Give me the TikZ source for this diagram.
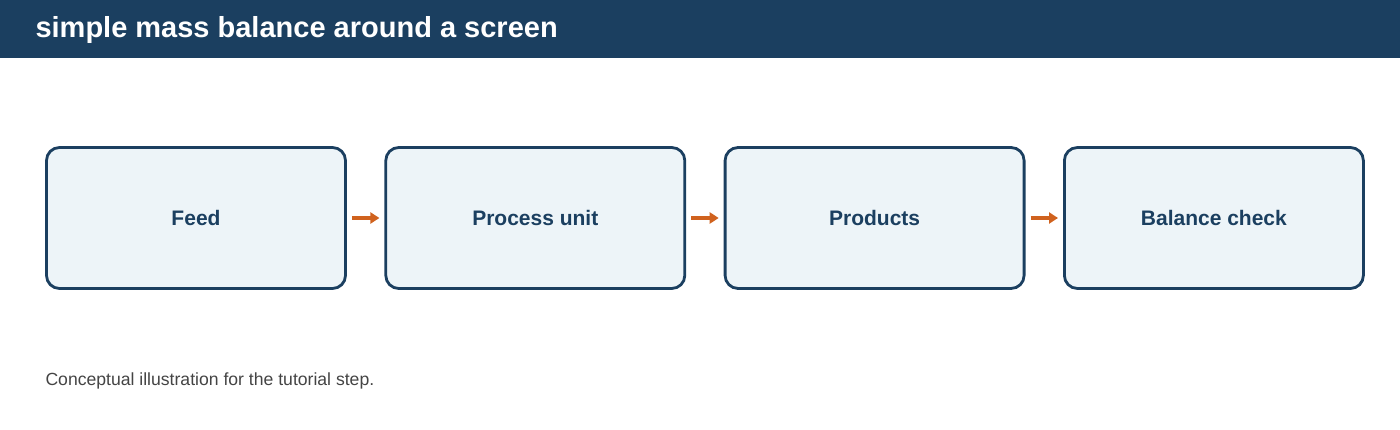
\documentclass[tikz,border=0pt]{standalone}
\usepackage{fontspec}
\setmainfont{Liberation Sans}
\usetikzlibrary{positioning,arrows.meta}
\definecolor{navy}{HTML}{1B3F60}
\definecolor{boxfill}{HTML}{EDF4F8}
\definecolor{flow}{HTML}{D0621E}
\definecolor{note}{HTML}{444444}
\begin{document}
\begin{tikzpicture}[x=1pt,y=-1pt]
	\tikzset{Step/.style = {draw=navy, line width=2.8pt, fill=boxfill, rounded corners=13pt,
			minimum width=299pt, minimum height=141pt, inner sep=0pt,
			font=\bfseries\fontsize{21}{25}\selectfont, text=navy},
		Flow/.style = {draw=flow, line width=3.4pt, -{Triangle[length=9pt,width=11pt]}, shorten >=5pt, shorten <=5pt}}
	\useasboundingbox (0,0) rectangle (1400,430);
	\fill[navy] (0,0) rectangle (1400,58);
	\node (title) [anchor=west, text=white, font=\bfseries\fontsize{29}{33}\selectfont] at (32,30) {simple mass balance around a screen};

	\node (feed) at (196,218) [Step] {Feed};
	\node (unit) [Step, right=37.5pt of feed] {Process unit};
	\node (prod) [Step, right=37.5pt of unit] {Products};
	\node (check) [Step, right=37.5pt of prod] {Balance check};

	\draw [Flow] (feed) -- (unit);
	\draw [Flow] (unit) -- (prod);
	\draw [Flow] (prod) -- (check);

	\node (caption) [anchor=west, text=note, font=\fontsize{17.6}{21}\selectfont] at (42,381) {Conceptual illustration for the tutorial step.};
\end{tikzpicture}
\end{document}
